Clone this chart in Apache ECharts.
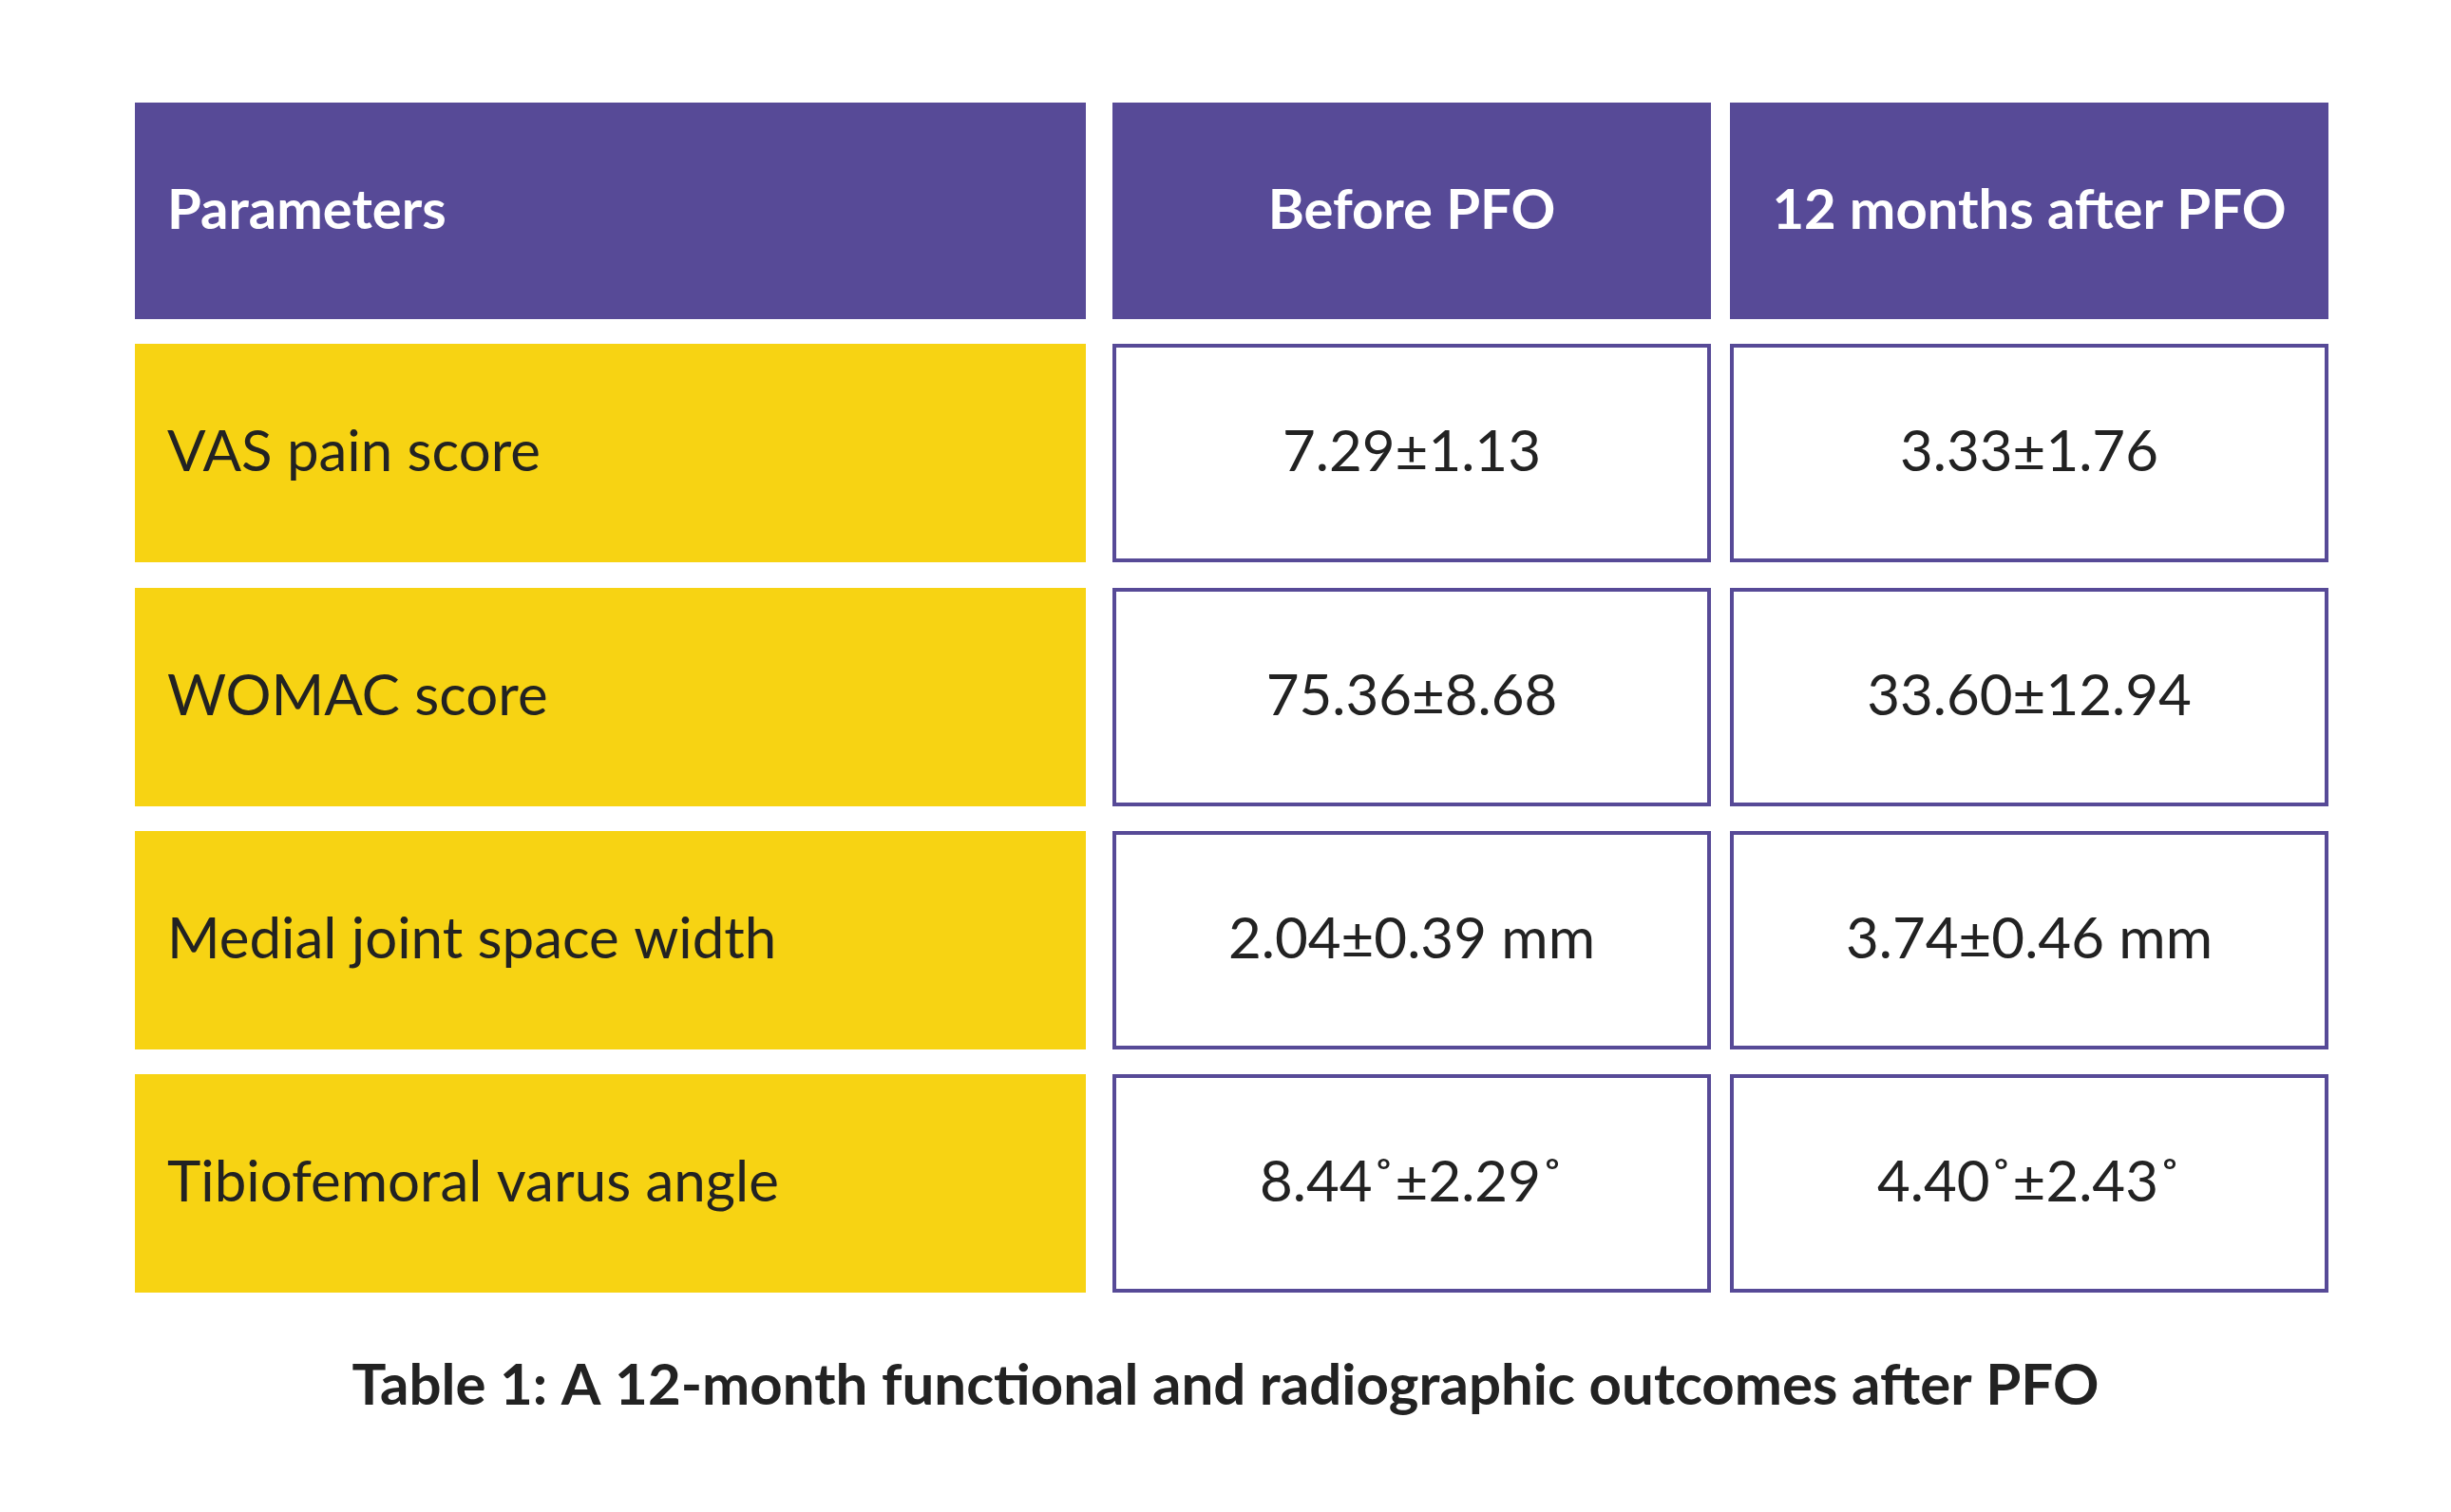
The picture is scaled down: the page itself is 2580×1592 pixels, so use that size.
<!DOCTYPE html>
<html><head><meta charset="utf-8">
<script src="https://cdn.jsdelivr.net/npm/echarts@6/dist/echarts.min.js"></script>
<style>html,body{margin:0;padding:0;background:#fff}#c{width:2580px;height:1592px}</style>
</head><body><div id="c"></div>
<script>
const headers = ['Parameters', 'Before PFO', '12 months after PFO'];
const parameters = ['VAS pain score', 'WOMAC score', 'Medial joint space width', 'Tibiofemoral varus angle'];
const beforePFO = ['7.29±1.13', '75.36±8.68', '2.04±0.39 mm', '8.44˚±2.29˚'];
const afterPFO = ['3.33±1.76', '33.60±12.94', '3.74±0.46 mm', '4.40˚±2.43˚'];
const caption = 'Table 1: A 12-month functional and radiographic outcomes after PFO';

const colX = [[142, 1143], [1171, 1801], [1821, 2451]];
const headY = [108, 336];
const rowY = [[362, 592], [619, 849], [875, 1105], [1131, 1361]];
const purple = '#574A97', yellow = '#F7D313', font = 'Lato, "Open Sans", sans-serif';

const g = [];
headers.forEach((h, i) => {
  const [x0, x1] = colX[i];
  g.push({type: 'rect', shape: {x: x0, y: headY[0], width: x1 - x0, height: headY[1] - headY[0]}, style: {fill: purple}});
  g.push({type: 'text', x: i === 0 ? x0 + 34 : (x0 + x1) / 2, y: (headY[0] + headY[1]) / 2,
    style: {text: h, fill: '#fff', font: 'bold 58px ' + font, align: i === 0 ? 'left' : 'center', verticalAlign: 'middle'}});
});
parameters.forEach((p, r) => {
  const [y0, y1] = rowY[r];
  const vals = [p, beforePFO[r], afterPFO[r]];
  vals.forEach((v, i) => {
    const [x0, x1] = colX[i];
    if (i === 0) {
      g.push({type: 'rect', shape: {x: x0, y: y0, width: x1 - x0, height: y1 - y0}, style: {fill: yellow}});
    } else {
      g.push({type: 'rect', shape: {x: x0 + 2, y: y0 + 2, width: x1 - x0 - 4, height: y1 - y0 - 4}, style: {fill: '#fff', stroke: purple, lineWidth: 4}});
    }
    g.push({type: 'text', x: i === 0 ? x0 + 34 : (x0 + x1) / 2, y: (y0 + y1) / 2,
      style: {text: v, fill: '#222', font: '60px ' + font, align: i === 0 ? 'left' : 'center', verticalAlign: 'middle'}});
  });
});
g.push({type: 'text', x: 1290, y: 1460, style: {text: caption, fill: '#222', font: 'bold 60px ' + font, align: 'center', verticalAlign: 'middle'}});

const chart = echarts.init(document.getElementById('c'));
chart.setOption({backgroundColor: '#fff', graphic: g});
</script></body></html>
